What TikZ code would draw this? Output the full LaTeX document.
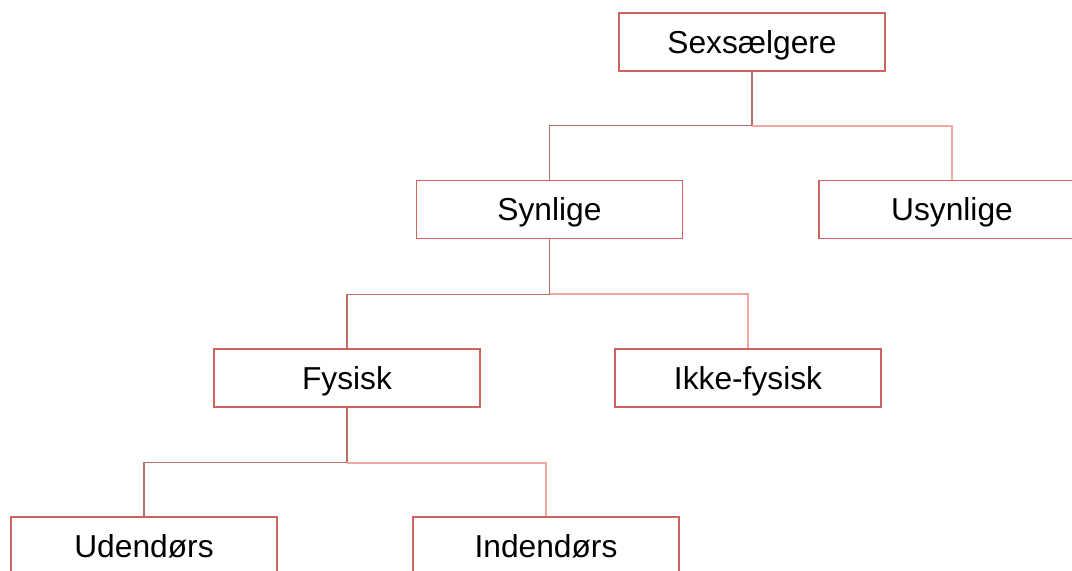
\documentclass[tikz,border=0pt]{standalone}
\usepackage{fontspec}
\setmainfont{Liberation Sans}
\usepackage{tikz}

\definecolor{boxred}{HTML}{D0625E}
\definecolor{linedark}{HTML}{B86E6A}
\definecolor{linelight}{HTML}{F2A8A2}

\begin{document}
\begin{tikzpicture}[x=0.75pt,y=-0.75pt,
  box/.style={draw=boxred,line width=1pt,fill=white,minimum width=199.5pt,minimum height=43.5pt,inner sep=0pt,text height=17pt,text depth=0pt,font=\fontsize{23.8}{28}\selectfont},
  leftline/.style={draw=linedark,line width=1pt},
  rightline/.style={draw=linelight,line width=1.3pt}]
\useasboundingbox (0,0) rectangle (1072,571);
\clip (0,0) rectangle (1072,571);

% Top level
\node[box] (sex) at (752,42) {Sexsælgere};

% Second level
\node[box] (syn) at (549.5,209.5) {Synlige};
\node[box] (usyn) at (952,209.5) {Usynlige};

% Third level
\node[box] (fys) at (347,378) {Fysisk};
\node[box] (ikke) at (748,378) {Ikke-fysisk};

% Fourth level
\node[box] (ude) at (144,546) {Udendørs};
\node[box] (inde) at (546,546) {Indendørs};

% Connectors
\draw[leftline] (sex.south) -- ++(0,54) -| (syn.north);
\draw[rightline] (sex.south) ++(0,54) -| (usyn.north);

\draw[leftline] (syn.south) -- ++(0,55) -| (fys.north);
\draw[rightline] (syn.south) ++(0,55) -| (ikke.north);

\draw[leftline] (fys.south) -- ++(0,55) -| (ude.north);
\draw[rightline] (fys.south) ++(0,55) -| (inde.north);
\end{tikzpicture}
\end{document}
